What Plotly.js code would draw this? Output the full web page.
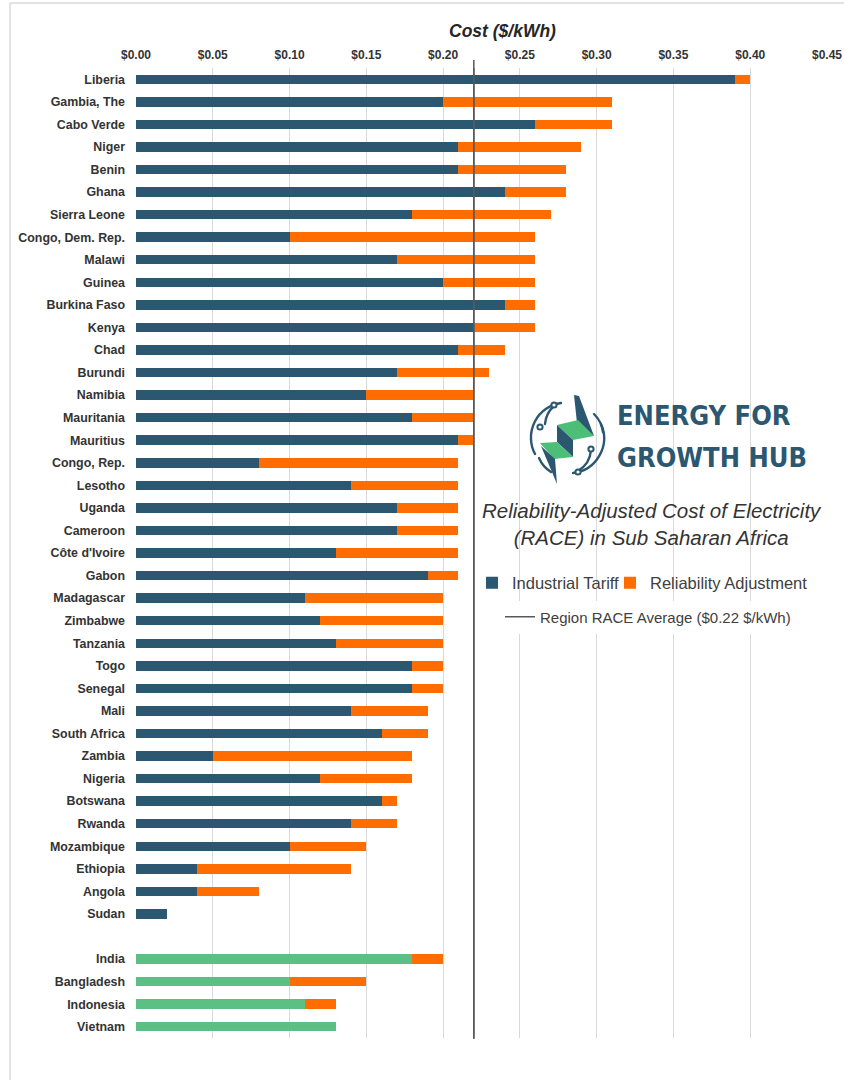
<!DOCTYPE html>
<html>
<head>
<meta charset="utf-8">
<script src="https://cdn.plot.ly/plotly-3.0.1.min.js"></script>
<style>html,body{margin:0;padding:0;background:#fff;}#chart{width:844px;height:1080px;}</style>
</head>
<body>
<div id="chart"></div>
<script>
// ---- Data ----
const africaCountries = ["Liberia","Gambia, The","Cabo Verde","Niger","Benin","Ghana","Sierra Leone","Congo, Dem. Rep.","Malawi","Guinea","Burkina Faso","Kenya","Chad","Burundi","Namibia","Mauritania","Mauritius","Congo, Rep.","Lesotho","Uganda","Cameroon","Côte d'Ivoire","Gabon","Madagascar","Zimbabwe","Tanzania","Togo","Senegal","Mali","South Africa","Zambia","Nigeria","Botswana","Rwanda","Mozambique","Ethiopia","Angola","Sudan"];
const africaTariff = [0.39,0.20,0.26,0.21,0.21,0.24,0.18,0.10,0.17,0.20,0.24,0.22,0.21,0.17,0.15,0.18,0.21,0.08,0.14,0.17,0.17,0.13,0.19,0.11,0.12,0.13,0.18,0.18,0.14,0.16,0.05,0.12,0.16,0.14,0.10,0.04,0.04,0.02];
const africaAdjustment = [0.01,0.11,0.05,0.08,0.07,0.04,0.09,0.16,0.09,0.06,0.02,0.04,0.03,0.06,0.07,0.04,0.01,0.13,0.07,0.04,0.04,0.08,0.02,0.09,0.08,0.07,0.02,0.02,0.05,0.03,0.13,0.06,0.01,0.03,0.05,0.10,0.04,0.00];
const compCountries = ["India","Bangladesh","Indonesia","Vietnam"];
const compTariff = [0.18,0.10,0.11,0.13];
const compAdjustment = [0.02,0.05,0.02,0.00];
const regionAverage = 0.22;
const xTickVals = [0,0.05,0.10,0.15,0.20,0.25,0.30,0.35,0.40,0.45];
const xTickText = ["$0.00","$0.05","$0.10","$0.15","$0.20","$0.25","$0.30","$0.35","$0.40","$0.45"];

// ---- Positions (row slots; one empty slot between groups) ----
const africaY = africaCountries.map((c,i)=>i);
const compY = compCountries.map((c,j)=>africaCountries.length + 1 + j);
const allY = africaY.concat(compY);
const allLabels = africaCountries.concat(compCountries);
const nSlots = africaCountries.length + 1 + compCountries.length;

const DARK = "#2B5770", ORANGE = "#FF6D00", GREEN = "#5CBF83";
const FONT = "Liberation Sans, Arial, sans-serif";

// pixel helpers for decorations
const L=136, R=827, T=68, B=1038;
const px = v => (v-L)/(R-L);
const py = v => (B-v)/(B-T);

const traces = [
  {type:"bar", orientation:"h", name:"Industrial Tariff", x:africaTariff, y:africaY,
   marker:{color:DARK}, width:0.42, legend:"legend"},
  {type:"bar", orientation:"h", name:"Industrial Tariff (comparison)", x:compTariff, y:compY,
   marker:{color:GREEN}, width:0.42, showlegend:false},
  {type:"bar", orientation:"h", name:"Reliability Adjustment", x:africaAdjustment.concat(compAdjustment), y:allY,
   marker:{color:ORANGE}, width:0.42, legend:"legend3"},
  {type:"scatter", mode:"lines", name:"Region RACE Average ($0.22 $/kWh)",
   x:[regionAverage, regionAverage], y:[-0.5, nSlots-0.5],
   line:{color:"#595959", width:1.5}, legend:"legend2", hoverinfo:"skip"}
];

const iconSvg = `<svg xmlns="http://www.w3.org/2000/svg" viewBox="0 0 100 100" width="100" height="100">
<g fill="none" stroke="${DARK}" stroke-width="2.4" stroke-linecap="round">
<path d="M 14 62 A 35 35 0 0 1 40 11"/>
<path d="M 80 32 A 35 35 0 0 1 52 81"/>
<path d="M 24 32 A 27 27 0 0 1 33 14"/>
<path d="M 70 58 A 27 27 0 0 1 57 79"/>
<path d="M 73 22 A 31 31 0 0 1 82 40"/>
<path d="M 18 66 A 31 31 0 0 0 30 80"/>
</g>
<g fill="#fff" stroke="${DARK}" stroke-width="2">
<circle cx="33" cy="13" r="2.6"/><circle cx="19" cy="35" r="2.6"/>
<circle cx="70" cy="57" r="2.6"/><circle cx="57" cy="80" r="2.6"/>
</g>
<polygon points="53,3 58,4 73,44 56,31" fill="${DARK}"/>
<polygon points="36,33 57,28 73,44 52,48" fill="#4DBE78"/>
<polygon points="36,33 52,48 52,65 36,50" fill="${DARK}"/>
<polygon points="19,51 36,50 52,65 33,67" fill="#4DBE78"/>
<polygon points="20,54 34,67 36,92" fill="${DARK}"/>
</svg>`;
const iconUri = "data:image/svg+xml;charset=utf-8," + encodeURIComponent(iconSvg);

const legendFont = {family:FONT, size:16.5, color:"#404040"};
const logoFont = {family:"DejaVu Sans Condensed, DejaVu Sans", size:27, weight:"bold", color:DARK};

const layout = {
  width:844, height:1080,
  margin:{l:L, r:844-R, t:T, b:1080-B, pad:0},
  paper_bgcolor:"#fff", plot_bgcolor:"#fff",
  barmode:"stack", bargap:0.58,
  font:{family:FONT, color:"#404040"},
  xaxis:{side:"top", range:[0,0.45], tickvals:xTickVals, ticktext:xTickText,
    showgrid:true, gridcolor:"#D9D9D9", gridwidth:1, zeroline:false, showline:false,
    ticks:"", ticklabelstandoff:6, tickfont:{family:FONT, size:12, weight:"bold", color:"#333333"}, fixedrange:true},
  yaxis:{range:[nSlots-0.5,-0.5], tickvals:allY, ticktext:allLabels, showgrid:false, zeroline:false,
    showline:false, ticks:"", ticklabelstandoff:10,
    tickfont:{family:FONT, size:12.4, weight:"bold", color:"#333333"}, fixedrange:true},
  showlegend:true,
  legend:{orientation:"h", x:px(472), xanchor:"left", y:py(583), yanchor:"middle",
    bgcolor:"rgba(255,255,255,0)", font:legendFont},
  legend3:{orientation:"h", x:px(610), xanchor:"left", y:py(583), yanchor:"middle",
    bgcolor:"rgba(255,255,255,0)", font:legendFont},
  legend2:{orientation:"h", x:px(500), xanchor:"left", y:py(617), yanchor:"middle",
    bgcolor:"#fff", font:{family:FONT, size:15, color:"#404040"}},
  shapes:[
    {type:"rect", xref:"paper", yref:"paper", x0:px(478), x1:px(838), y0:py(597), y1:py(385),
     fillcolor:"#fff", line:{width:0}, layer:"between"},
    {type:"line", xref:"paper", yref:"paper", x0:px(10), x1:px(844), y0:py(3), y1:py(3),
     line:{color:"#D9D9D9", width:1.5}},
    {type:"line", xref:"paper", yref:"paper", x0:px(10), x1:px(10), y0:py(3), y1:py(1080),
     line:{color:"#D9D9D9", width:1.5}},
    {type:"line", xref:"x", yref:"paper", x0:regionAverage, x1:regionAverage, y0:py(1039), y1:py(60),
     line:{color:"#595959", width:1.5}, layer:"above"}
  ],
  images:[{source:iconUri, xref:"paper", yref:"paper", x:px(521), y:py(392),
    sizex:100/(R-L), sizey:100/(B-T), xanchor:"left", yanchor:"top", sizing:"stretch", layer:"above"}],
  annotations:[
    {text:"Cost ($/kWh)", xref:"paper", yref:"paper", x:px(502), y:py(31), xanchor:"center", yanchor:"middle",
     showarrow:false, font:{family:FONT, size:17.5, weight:"bold", style:"italic", color:"#262626"}},
    {text:"ENERGY FOR", xref:"paper", yref:"paper", x:px(615), y:py(416), xanchor:"left", yanchor:"middle",
     align:"left", showarrow:false, font:logoFont},
    {text:"GROWTH HUB", xref:"paper", yref:"paper", x:px(615), y:py(457), xanchor:"left", yanchor:"middle",
     align:"left", showarrow:false, font:logoFont},
    {text:"Reliability-Adjusted Cost of Electricity<br>(RACE) in Sub Saharan Africa", xref:"paper", yref:"paper",
     x:px(652), y:py(524), xanchor:"center", yanchor:"middle", align:"center", showarrow:false,
     font:{family:FONT, size:20.5, style:"italic", color:"#333333"}}
  ]
};

Plotly.newPlot("chart", traces, layout, {displayModeBar:false, staticPlot:true});
</script>
</body>
</html>
